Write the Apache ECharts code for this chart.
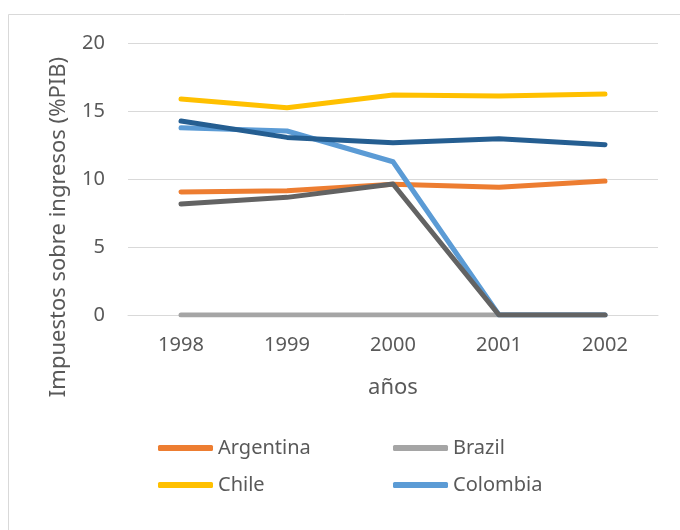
<!DOCTYPE html>
<html>
<head>
<meta charset="utf-8">
<script src="https://cdn.jsdelivr.net/npm/echarts@6/dist/echarts.min.js"></script>
<style>
  html, body { margin: 0; padding: 0; background: #fff; }
  #chart { width: 680px; height: 530px; }
</style>
</head>
<body>
<div id="chart"></div>
<script>
// datos
var years = ['1998', '1999', '2000', '2001', '2002'];
var argentina = [9.04, 9.14, 9.61, 9.39, 9.85];
var brazil = [0, 0, 0, 0, 0];
var chile = [15.88, 15.24, 16.18, 16.1, 16.25];
var colombia = [13.77, 13.53, 11.27, 0, 0];
var serie5 = [14.26, 13.06, 12.67, 12.96, 12.52];
var serie6 = [8.16, 8.65, 9.63, 0, 0];
var yTicks = [0, 5, 10, 15, 20];

var myChart = echarts.init(document.getElementById('chart'));

function linea(name, data, color) {
        return {
                name: name,
                type: 'line',
                data: data,
                symbol: 'none',
                animation: false,
                lineStyle: { width: 5, color: color, cap: 'round', join: 'round' },
                itemStyle: { color: color }
        };
}

var option = {
        backgroundColor: '#fff',
        textStyle: { fontFamily: 'Noto Sans' },
        graphic: [
                {
                        type: 'rect',
                        shape: { x: 8.5, y: 14.5, width: 700, height: 540 },
                        style: { fill: 'none', stroke: '#D9D9D9', lineWidth: 1 }
                },
                {
                        type: 'text',
                        x: 59, y: 227,
                        rotation: Math.PI / 2,
                        style: {
                                text: 'Impuestos sobre ingresos (%PIB)',
                                fill: '#595959',
                                font: '22px "Noto Sans"',
                                textAlign: 'center',
                                textVerticalAlign: 'middle'
                        }
                }
        ],
        grid: { left: 128, right: 22, top: 43, bottom: 215 },
        legend: [
                {
                        data: ['Argentina', 'Chile'],
                        orient: 'vertical',
                        left: 158, top: 437, padding: 0,
                        itemWidth: 55, itemHeight: 6, itemGap: 15,
                        icon: 'roundRect',
                        textStyle: { color: '#595959', fontSize: 20, lineHeight: 22 }
                },
                {
                        data: ['Brazil', 'Colombia'],
                        orient: 'vertical',
                        left: 393, top: 437, padding: 0,
                        itemWidth: 55, itemHeight: 6, itemGap: 15,
                        icon: 'roundRect',
                        textStyle: { color: '#595959', fontSize: 20, lineHeight: 22 }
                }
        ],
        xAxis: {
                type: 'category',
                data: years,
                boundaryGap: true,
                name: 'años',
                nameLocation: 'middle',
                nameGap: 62,
                nameTextStyle: { color: '#595959', fontSize: 22 },
                axisLine: { lineStyle: { color: '#D9D9D9', width: 1 } },
                axisTick: { show: false },
                axisLabel: { color: '#595959', fontSize: 20, margin: 20 }
        },
        yAxis: {
                type: 'value',
                min: yTicks[0],
                max: yTicks[yTicks.length - 1],
                interval: 5,
                axisLine: { show: false },
                axisTick: { show: false },
                axisLabel: { color: '#595959', fontSize: 20, margin: 23 },
                splitLine: { lineStyle: { color: '#D9D9D9', width: 1 } }
        },
        series: [
                linea('Argentina', argentina, '#ED7D31'),
                linea('Brazil', brazil, '#A5A5A5'),
                linea('Chile', chile, '#FFC000'),
                linea('Colombia', colombia, '#5B9BD5'),
                linea('Serie5', serie5, '#255E91'),
                linea('Serie6', serie6, '#636363')
        ]
};
myChart.setOption(option);
</script>
</body>
</html>
